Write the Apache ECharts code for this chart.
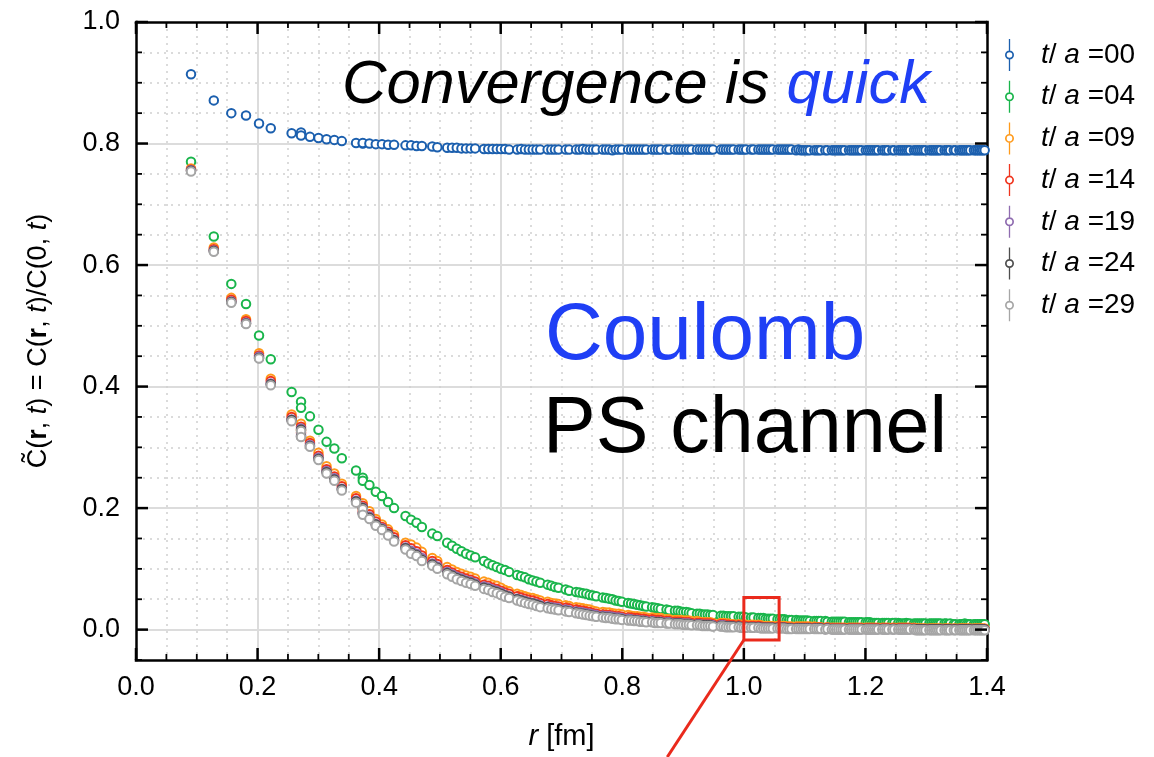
<!DOCTYPE html>
<html>
<head>
<meta charset="utf-8">
<script src="https://cdn.jsdelivr.net/npm/echarts@6/dist/echarts.min.js"></script>
<style>
  html, body { margin: 0; padding: 0; background: #ffffff; }
  #chart { width: 1154px; height: 757px; }
</style>
</head>
<body>
<div id="chart"></div>
<script>
// Lattice separations r [fm]
const radius = [
  0.0905, 0.1280, 0.1568, 0.1810, 0.2024, 0.2217, 0.2560, 0.2715, 0.2715, 0.2862,
  0.3002, 0.3135, 0.3263, 0.3386, 0.3620, 0.3731, 0.3731, 0.3840, 0.3945, 0.4047,
  0.4147, 0.4245, 0.4434, 0.4525, 0.4615, 0.4703, 0.4874, 0.4957, 0.5119, 0.5199,
  0.5277, 0.5354, 0.5430, 0.5505, 0.5579, 0.5724, 0.5795, 0.5865, 0.5935, 0.6003,
  0.6071, 0.6138, 0.6270, 0.6335, 0.6399, 0.6463, 0.6526, 0.6588, 0.6650, 0.6772,
  0.6833, 0.6892, 0.6951, 0.7068, 0.7126, 0.7240, 0.7296, 0.7352, 0.7408, 0.7463,
  0.7517, 0.7572, 0.7679, 0.7732, 0.7785, 0.7838, 0.7890, 0.7941, 0.7993, 0.8095,
  0.8145, 0.8195, 0.8245, 0.8294, 0.8344, 0.8393, 0.8490, 0.8538, 0.8586, 0.8633,
  0.8728, 0.8774, 0.8867, 0.8913, 0.8959, 0.9005, 0.9050, 0.9095, 0.9140, 0.9229,
  0.9274, 0.9318, 0.9361, 0.9405, 0.9448, 0.9492, 0.9620, 0.9663, 0.9705, 0.9747,
  0.9789, 0.9831, 0.9914, 0.9955, 0.9996, 1.0037, 1.0118, 1.0159, 1.0239, 1.0279,
  1.0319, 1.0358, 1.0398, 1.0437, 1.0476, 1.0554, 1.0593, 1.0631, 1.0670, 1.0708,
  1.0746, 1.0784, 1.0860, 1.0898, 1.0935, 1.0973, 1.1010, 1.1047, 1.1084, 1.1158,
  1.1194, 1.1231, 1.1267, 1.1340, 1.1376, 1.1447, 1.1483, 1.1519, 1.1554, 1.1590,
  1.1625, 1.1660, 1.1730, 1.1765, 1.1800, 1.1834, 1.1869, 1.1903, 1.1938, 1.2006,
  1.2040, 1.2074, 1.2108, 1.2142, 1.2176, 1.2209, 1.2276, 1.2309, 1.2343, 1.2376,
  1.2442, 1.2475, 1.2540, 1.2573, 1.2605, 1.2638, 1.2670, 1.2702, 1.2734, 1.2799,
  1.2831, 1.2862, 1.2894, 1.2926, 1.2958, 1.2989, 1.3052, 1.3083, 1.3115, 1.3146,
  1.3177, 1.3208, 1.3239, 1.3301, 1.3331, 1.3362, 1.3393, 1.3454, 1.3484, 1.3545,
  1.3575, 1.3605, 1.3635, 1.3665, 1.3695, 1.3725, 1.3785, 1.3814, 1.3844, 1.3873,
  1.3903, 1.3932, 1.3962
];

// Normalised correlator C(r,t)/C(0,t) for each t/a
const ta00 = [
  0.914, 0.871, 0.850, 0.846, 0.833, 0.825, 0.817, 0.818, 0.813, 0.811,
  0.809, 0.807, 0.806, 0.804, 0.801, 0.800, 0.801, 0.800, 0.799, 0.799,
  0.798, 0.798, 0.797, 0.797, 0.796, 0.796, 0.795, 0.794, 0.793, 0.793,
  0.793, 0.792, 0.792, 0.792, 0.792, 0.791, 0.791, 0.791, 0.791, 0.791,
  0.791, 0.790, 0.790, 0.791, 0.790, 0.790, 0.790, 0.790, 0.790, 0.790,
  0.790, 0.790, 0.790, 0.790, 0.790, 0.790, 0.790, 0.791, 0.790, 0.790,
  0.790, 0.790, 0.790, 0.790, 0.790, 0.789, 0.790, 0.790, 0.790, 0.790,
  0.790, 0.790, 0.790, 0.790, 0.790, 0.790, 0.790, 0.790, 0.790, 0.790,
  0.790, 0.790, 0.790, 0.790, 0.790, 0.790, 0.790, 0.790, 0.790, 0.790,
  0.790, 0.790, 0.790, 0.790, 0.790, 0.790, 0.790, 0.790, 0.790, 0.790,
  0.790, 0.790, 0.790, 0.790, 0.790, 0.790, 0.790, 0.790, 0.790, 0.790,
  0.790, 0.790, 0.790, 0.790, 0.790, 0.790, 0.790, 0.790, 0.790, 0.790,
  0.790, 0.790, 0.789, 0.790, 0.789, 0.789, 0.789, 0.789, 0.789, 0.789,
  0.789, 0.789, 0.789, 0.789, 0.789, 0.789, 0.789, 0.789, 0.789, 0.789,
  0.789, 0.789, 0.789, 0.789, 0.789, 0.789, 0.789, 0.789, 0.789, 0.789,
  0.789, 0.789, 0.789, 0.789, 0.789, 0.789, 0.789, 0.789, 0.789, 0.789,
  0.789, 0.789, 0.789, 0.789, 0.789, 0.789, 0.789, 0.789, 0.789, 0.789,
  0.789, 0.789, 0.789, 0.789, 0.789, 0.789, 0.789, 0.789, 0.789, 0.789,
  0.789, 0.789, 0.789, 0.789, 0.789, 0.789, 0.789, 0.789, 0.789, 0.789,
  0.789, 0.789, 0.789, 0.789, 0.789, 0.789, 0.789, 0.789, 0.789, 0.789,
  0.789, 0.789, 0.789
];
const ta04 = [
  0.770, 0.647, 0.569, 0.536, 0.484, 0.445, 0.391, 0.375, 0.365, 0.351,
  0.329, 0.309, 0.298, 0.282, 0.262, 0.250, 0.245, 0.238, 0.227, 0.220,
  0.210, 0.200, 0.187, 0.181, 0.176, 0.169, 0.158, 0.154, 0.143, 0.138,
  0.133, 0.129, 0.125, 0.122, 0.119, 0.113, 0.109, 0.106, 0.103, 0.100,
  0.098, 0.095, 0.090, 0.088, 0.086, 0.083, 0.081, 0.079, 0.077, 0.074,
  0.072, 0.070, 0.069, 0.066, 0.064, 0.062, 0.061, 0.060, 0.059, 0.057,
  0.056, 0.055, 0.053, 0.052, 0.051, 0.050, 0.048, 0.047, 0.046, 0.044,
  0.043, 0.042, 0.041, 0.040, 0.039, 0.038, 0.037, 0.036, 0.035, 0.034,
  0.033, 0.032, 0.031, 0.031, 0.030, 0.029, 0.029, 0.028, 0.027, 0.026,
  0.026, 0.025, 0.025, 0.025, 0.024, 0.024, 0.023, 0.023, 0.022, 0.022,
  0.022, 0.022, 0.021, 0.021, 0.021, 0.020, 0.020, 0.020, 0.019, 0.019,
  0.019, 0.018, 0.018, 0.018, 0.018, 0.017, 0.017, 0.017, 0.017, 0.016,
  0.016, 0.016, 0.016, 0.015, 0.015, 0.015, 0.015, 0.015, 0.014, 0.014,
  0.014, 0.014, 0.014, 0.014, 0.013, 0.013, 0.013, 0.013, 0.013, 0.013,
  0.013, 0.013, 0.012, 0.012, 0.012, 0.012, 0.012, 0.012, 0.012, 0.012,
  0.012, 0.012, 0.011, 0.011, 0.011, 0.011, 0.011, 0.011, 0.011, 0.011,
  0.011, 0.011, 0.011, 0.010, 0.010, 0.010, 0.011, 0.010, 0.010, 0.010,
  0.010, 0.010, 0.010, 0.010, 0.010, 0.010, 0.010, 0.010, 0.010, 0.010,
  0.010, 0.010, 0.010, 0.010, 0.010, 0.009, 0.010, 0.009, 0.009, 0.009,
  0.009, 0.009, 0.010, 0.009, 0.009, 0.009, 0.009, 0.009, 0.009, 0.009,
  0.009, 0.009, 0.009
];
const ta09 = [
  0.759, 0.629, 0.546, 0.511, 0.455, 0.413, 0.354, 0.339, 0.328, 0.311,
  0.291, 0.269, 0.257, 0.240, 0.220, 0.208, 0.199, 0.195, 0.182, 0.173,
  0.165, 0.156, 0.143, 0.140, 0.135, 0.128, 0.118, 0.113, 0.103, 0.099,
  0.095, 0.092, 0.089, 0.087, 0.084, 0.079, 0.077, 0.074, 0.072, 0.069,
  0.065, 0.063, 0.059, 0.057, 0.055, 0.053, 0.052, 0.050, 0.048, 0.046,
  0.044, 0.043, 0.042, 0.040, 0.039, 0.037, 0.036, 0.035, 0.034, 0.033,
  0.031, 0.030, 0.029, 0.028, 0.028, 0.027, 0.026, 0.026, 0.025, 0.024,
  0.023, 0.022, 0.022, 0.021, 0.021, 0.020, 0.020, 0.019, 0.019, 0.019,
  0.017, 0.017, 0.016, 0.016, 0.016, 0.015, 0.015, 0.015, 0.014, 0.014,
  0.013, 0.012, 0.012, 0.012, 0.012, 0.011, 0.011, 0.011, 0.010, 0.010,
  0.009, 0.009, 0.009, 0.008, 0.008, 0.008, 0.008, 0.008, 0.008, 0.007,
  0.006, 0.006, 0.006, 0.006, 0.006, 0.006, 0.006, 0.006, 0.006, 0.005,
  0.005, 0.005, 0.005, 0.005, 0.005, 0.005, 0.005, 0.005, 0.005, 0.005,
  0.004, 0.004, 0.004, 0.003, 0.004, 0.003, 0.003, 0.003, 0.003, 0.003,
  0.003, 0.003, 0.003, 0.003, 0.003, 0.003, 0.003, 0.003, 0.003, 0.003,
  0.003, 0.003, 0.003, 0.003, 0.003, 0.003, 0.003, 0.003, 0.003, 0.003,
  0.003, 0.003, 0.003, 0.003, 0.003, 0.003, 0.003, 0.003, 0.003, 0.003,
  0.002, 0.002, 0.002, 0.002, 0.002, 0.002, 0.002, 0.002, 0.002, 0.002,
  0.002, 0.002, 0.002, 0.002, 0.002, 0.002, 0.002, 0.002, 0.002, 0.002,
  0.002, 0.002, 0.002, 0.002, 0.002, 0.002, 0.002, 0.002, 0.002, 0.002,
  0.002, 0.002, 0.002
];
const ta14 = [
  0.757, 0.626, 0.543, 0.508, 0.451, 0.409, 0.350, 0.334, 0.324, 0.307,
  0.286, 0.264, 0.252, 0.236, 0.216, 0.204, 0.195, 0.190, 0.178, 0.169,
  0.161, 0.152, 0.139, 0.134, 0.129, 0.122, 0.113, 0.108, 0.098, 0.094,
  0.090, 0.087, 0.084, 0.082, 0.079, 0.074, 0.072, 0.069, 0.067, 0.064,
  0.061, 0.059, 0.055, 0.053, 0.051, 0.049, 0.048, 0.046, 0.044, 0.042,
  0.040, 0.039, 0.038, 0.036, 0.035, 0.033, 0.032, 0.031, 0.030, 0.029,
  0.027, 0.026, 0.025, 0.024, 0.024, 0.023, 0.022, 0.022, 0.021, 0.020,
  0.020, 0.019, 0.019, 0.018, 0.018, 0.017, 0.017, 0.016, 0.016, 0.016,
  0.014, 0.014, 0.013, 0.013, 0.013, 0.012, 0.012, 0.012, 0.011, 0.011,
  0.011, 0.010, 0.010, 0.010, 0.010, 0.009, 0.009, 0.009, 0.008, 0.008,
  0.007, 0.007, 0.007, 0.006, 0.006, 0.006, 0.006, 0.006, 0.006, 0.005,
  0.004, 0.004, 0.004, 0.004, 0.004, 0.004, 0.004, 0.004, 0.004, 0.003,
  0.003, 0.003, 0.003, 0.003, 0.003, 0.003, 0.003, 0.003, 0.003, 0.003,
  0.003, 0.003, 0.003, 0.002, 0.003, 0.002, 0.002, 0.002, 0.002, 0.002,
  0.002, 0.002, 0.002, 0.002, 0.002, 0.002, 0.002, 0.002, 0.002, 0.002,
  0.002, 0.002, 0.002, 0.002, 0.002, 0.002, 0.002, 0.002, 0.002, 0.002,
  0.002, 0.002, 0.002, 0.002, 0.002, 0.002, 0.002, 0.002, 0.002, 0.002,
  0.001, 0.001, 0.001, 0.001, 0.001, 0.001, 0.001, 0.001, 0.001, 0.001,
  0.001, 0.001, 0.001, 0.001, 0.001, 0.001, 0.001, 0.001, 0.001, 0.001,
  0.001, 0.001, 0.001, 0.001, 0.001, 0.001, 0.001, 0.001, 0.001, 0.001,
  0.001, 0.001, 0.001
];
const ta19 = [
  0.756, 0.624, 0.540, 0.505, 0.449, 0.405, 0.346, 0.331, 0.320, 0.304,
  0.283, 0.261, 0.249, 0.232, 0.212, 0.201, 0.192, 0.186, 0.174, 0.167,
  0.158, 0.148, 0.135, 0.130, 0.125, 0.118, 0.109, 0.104, 0.095, 0.091,
  0.087, 0.084, 0.081, 0.079, 0.076, 0.071, 0.069, 0.066, 0.064, 0.061,
  0.057, 0.055, 0.051, 0.049, 0.047, 0.045, 0.044, 0.042, 0.040, 0.038,
  0.037, 0.036, 0.035, 0.033, 0.032, 0.030, 0.029, 0.028, 0.027, 0.026,
  0.025, 0.024, 0.023, 0.022, 0.022, 0.021, 0.020, 0.020, 0.019, 0.018,
  0.017, 0.016, 0.016, 0.015, 0.015, 0.014, 0.014, 0.013, 0.013, 0.013,
  0.012, 0.012, 0.011, 0.011, 0.011, 0.010, 0.010, 0.010, 0.009, 0.009,
  0.009, 0.008, 0.008, 0.008, 0.008, 0.007, 0.007, 0.007, 0.006, 0.006,
  0.005, 0.005, 0.005, 0.004, 0.004, 0.004, 0.004, 0.004, 0.004, 0.003,
  0.003, 0.003, 0.003, 0.003, 0.003, 0.003, 0.003, 0.003, 0.003, 0.002,
  0.002, 0.002, 0.002, 0.002, 0.002, 0.002, 0.002, 0.002, 0.002, 0.002,
  0.002, 0.002, 0.002, 0.001, 0.002, 0.001, 0.001, 0.001, 0.001, 0.001,
  0.001, 0.001, 0.001, 0.001, 0.001, 0.001, 0.001, 0.001, 0.001, 0.001,
  0.001, 0.001, 0.001, 0.001, 0.001, 0.001, 0.001, 0.001, 0.001, 0.001,
  0.001, 0.001, 0.001, 0.001, 0.001, 0.001, 0.001, 0.001, 0.001, 0.001,
  0.000, 0.000, 0.000, 0.000, 0.000, 0.000, 0.000, 0.000, 0.000, 0.000,
  0.000, 0.000, 0.000, 0.000, 0.000, 0.000, 0.000, 0.000, 0.000, 0.000,
  0.000, 0.000, 0.000, 0.000, 0.000, 0.000, 0.000, 0.000, 0.000, 0.000,
  0.000, 0.000, 0.000
];
const ta24 = [
  0.755, 0.623, 0.539, 0.504, 0.447, 0.404, 0.345, 0.329, 0.318, 0.302,
  0.281, 0.259, 0.247, 0.231, 0.211, 0.200, 0.191, 0.184, 0.173, 0.165,
  0.157, 0.147, 0.134, 0.127, 0.123, 0.115, 0.107, 0.102, 0.093, 0.089,
  0.085, 0.082, 0.079, 0.077, 0.074, 0.069, 0.067, 0.064, 0.062, 0.059,
  0.056, 0.054, 0.050, 0.048, 0.046, 0.044, 0.043, 0.041, 0.039, 0.037,
  0.035, 0.034, 0.033, 0.031, 0.030, 0.028, 0.027, 0.026, 0.025, 0.024,
  0.023, 0.022, 0.021, 0.020, 0.020, 0.019, 0.018, 0.018, 0.017, 0.016,
  0.016, 0.015, 0.015, 0.014, 0.014, 0.013, 0.013, 0.012, 0.012, 0.012,
  0.011, 0.011, 0.010, 0.010, 0.010, 0.009, 0.009, 0.009, 0.008, 0.008,
  0.008, 0.007, 0.007, 0.007, 0.007, 0.006, 0.006, 0.006, 0.005, 0.005,
  0.005, 0.005, 0.005, 0.004, 0.004, 0.004, 0.004, 0.004, 0.004, 0.003,
  0.003, 0.003, 0.003, 0.003, 0.003, 0.003, 0.003, 0.003, 0.003, 0.002,
  0.002, 0.002, 0.002, 0.002, 0.002, 0.002, 0.002, 0.002, 0.002, 0.002,
  0.002, 0.002, 0.002, 0.001, 0.002, 0.001, 0.001, 0.001, 0.001, 0.001,
  0.001, 0.001, 0.001, 0.001, 0.001, 0.001, 0.001, 0.001, 0.001, 0.001,
  0.001, 0.001, 0.001, 0.001, 0.001, 0.001, 0.001, 0.001, 0.001, 0.001,
  0.001, 0.001, 0.001, 0.001, 0.001, 0.001, 0.001, 0.001, 0.001, 0.001,
  0.000, 0.000, 0.000, 0.000, 0.000, 0.000, 0.000, 0.000, 0.000, 0.000,
  0.000, 0.000, 0.000, 0.000, 0.000, 0.000, 0.000, 0.000, 0.000, 0.000,
  0.000, 0.000, 0.000, 0.000, 0.000, 0.000, 0.000, 0.000, 0.000, 0.000,
  0.000, 0.000, 0.000
];
const ta29 = [
  0.754, 0.622, 0.538, 0.503, 0.446, 0.402, 0.343, 0.327, 0.317, 0.301,
  0.279, 0.257, 0.245, 0.229, 0.209, 0.198, 0.189, 0.182, 0.171, 0.164,
  0.155, 0.145, 0.132, 0.125, 0.121, 0.113, 0.105, 0.100, 0.091, 0.087,
  0.083, 0.080, 0.077, 0.075, 0.072, 0.067, 0.065, 0.062, 0.060, 0.057,
  0.054, 0.052, 0.048, 0.046, 0.044, 0.042, 0.041, 0.039, 0.037, 0.035,
  0.034, 0.033, 0.032, 0.030, 0.029, 0.027, 0.026, 0.025, 0.024, 0.023,
  0.022, 0.021, 0.020, 0.019, 0.019, 0.018, 0.017, 0.017, 0.016, 0.015,
  0.015, 0.014, 0.014, 0.013, 0.013, 0.012, 0.012, 0.011, 0.011, 0.011,
  0.010, 0.010, 0.009, 0.009, 0.009, 0.008, 0.008, 0.008, 0.007, 0.007,
  0.007, 0.006, 0.006, 0.006, 0.006, 0.005, 0.005, 0.005, 0.004, 0.004,
  0.004, 0.004, 0.004, 0.003, 0.003, 0.003, 0.003, 0.003, 0.003, 0.002,
  0.002, 0.002, 0.002, 0.002, 0.002, 0.002, 0.002, 0.002, 0.002, 0.001,
  0.001, 0.001, 0.001, 0.001, 0.001, 0.001, 0.001, 0.001, 0.001, 0.001,
  0.001, 0.001, 0.001, 0.000, 0.001, 0.000, 0.000, 0.000, 0.000, 0.000,
  0.000, 0.000, 0.000, 0.000, 0.000, 0.000, 0.000, 0.000, 0.000, 0.000,
  0.000, 0.000, 0.000, 0.000, 0.000, 0.000, 0.000, 0.000, 0.000, 0.000,
  0.000, 0.000, 0.000, 0.000, 0.000, 0.000, 0.000, 0.000, 0.000, 0.000,
  -0.001, -0.001, -0.001, -0.001, -0.001, -0.001, -0.001, -0.001, -0.001, -0.001,
  -0.001, -0.001, -0.001, -0.001, -0.001, -0.001, -0.001, -0.001, -0.001, -0.001,
  -0.001, -0.001, -0.001, -0.001, -0.001, -0.001, -0.001, -0.001, -0.001, -0.001,
  -0.001, -0.001, -0.001
];

const seriesNames = ['t/a =00', 't/a =04', 't/a =09', 't/a =14', 't/a =19', 't/a =24', 't/a =29'];
const seriesValues = [ta00, ta04, ta09, ta14, ta19, ta24, ta29];
const seriesColors = ['#1b5fae', '#19b54b', '#ff9a1a', '#f0351e', '#8f6cb0', '#4d4d4d', '#a6a6a6'];

// Axis ranges, grid spacing and the tick marks drawn on the frame
const rRange = [0, 1.4];
const rStep = 0.2;
const cRange = [-0.05, 1.0];
const cStep = 0.2;
const cMinorStep = 0.05;
const rTickValues = [
  0.00, 0.05, 0.10, 0.15, 0.20, 0.25, 0.30, 0.35, 0.40, 0.45, 0.50, 0.55, 0.60, 0.65, 0.70,
  0.75, 0.80, 0.85, 0.90, 0.95, 1.00, 1.05, 1.10, 1.15, 1.20, 1.25, 1.30, 1.35, 1.40
];
const cTickValues = [
  -0.05, 0.00, 0.05, 0.10, 0.15, 0.20, 0.25, 0.30, 0.35, 0.40, 0.45,
  0.50, 0.55, 0.60, 0.65, 0.70, 0.75, 0.80, 0.85, 0.90, 0.95, 1.00
];

// Zoomed-in window highlighted on the plot
const zoomWindow = { r: [1.0, 1.058], c: [-0.017, 0.053] };
const pointerEndR = 0.874;

const FONT = '"Liberation Sans", Arial, Helvetica, sans-serif';
const INK = '#000000';
const GRID_MAJOR = '#dcdcdc';
const GRID_MINOR = '#cfcfcf';

// Legend marker: small ring with a vertical error bar through it
const legendIcon = 'path://M4.5,11.5 A4.5,4.5 0 1,1 4.5,20.5 A4.5,4.5 0 1,1 4.5,11.5 Z ' +
  'M4.5,13.2 A2.8,2.8 0 1,0 4.5,18.8 A2.8,2.8 0 1,0 4.5,13.2 Z ' +
  'M3.85,0 L5.15,0 L5.15,11.7 L3.85,11.7 Z M3.85,20.3 L5.15,20.3 L5.15,32 L3.85,32 Z';

const isMultiple = (v, step) => Math.abs(v / step - Math.round(v / step)) < 1e-6;

const chart = echarts.init(document.getElementById('chart'), null, { renderer: 'canvas' });

const richText = size => ({
  n: { fontFamily: FONT, fontSize: size, color: INK },
  i: { fontFamily: FONT, fontSize: size, color: INK, fontStyle: 'italic' },
  b: { fontFamily: FONT, fontSize: size, color: INK, fontWeight: 'bold' }
});

const frameLine = () => ({ show: true, onZero: false, lineStyle: { color: INK, width: 2.5, cap: 'square' } });
const noLine = () => ({ show: false, onZero: false });
const dotted = () => ({ color: GRID_MINOR, width: 1.5, type: [2, 5] });
const solid = () => ({ color: GRID_MAJOR, width: 2 });

const option = {
  animation: false,
  backgroundColor: '#ffffff',
  grid: { left: 136, right: 167, top: 22, bottom: 97, show: false },
  legend: {
    orient: 'vertical',
    left: 1000, top: 34,
    itemWidth: 9, itemHeight: 32, itemGap: 9.7,
    icon: legendIcon,
    selectedMode: false,
    data: seriesNames.map((name, i) => ({
      name: name,
      itemStyle: { color: seriesColors[i], borderWidth: 0 }
    })),
    formatter: name => '{i|t}{n|/ }{i|a}{n| =' + name.split('=')[1] + '}',
    textStyle: {
      fontFamily: FONT, fontSize: 28, color: INK,
      padding: [0, 0, 0, 22],
      rich: richText(28)
    }
  },
  xAxis: [
    {
      type: 'value', position: 'bottom', z: 1,
      min: rRange[0], max: rRange[1], interval: rStep,
      axisLine: frameLine(),
      axisTick: { show: false },
      minorTick: { show: false, splitNumber: 4 },
      splitLine: { show: true, showMinLine: false, showMaxLine: false, lineStyle: solid() },
      minorSplitLine: { show: true, lineStyle: dotted() },
      axisLabel: { show: true, margin: 14, fontFamily: FONT, fontSize: 27, color: INK,
                   formatter: v => v.toFixed(1) },
      name: '{i|r} [fm]',
      nameLocation: 'middle', nameGap: 62,
      nameTextStyle: { fontFamily: FONT, fontSize: 29, color: INK, rich: richText(29) }
    },
    {
      type: 'value', position: 'top', z: 1,
      min: rRange[0], max: rRange[1], interval: rStep,
      axisLine: frameLine(),
      axisTick: { show: false },
      splitLine: { show: false },
      axisLabel: { show: false }
    }
  ],
  yAxis: [
    {
      // dotted grid every 0.05
      type: 'value', position: 'left', z: 0,
      min: cRange[0], max: cRange[1], interval: cMinorStep,
      axisLine: noLine(), axisTick: { show: false }, axisLabel: { show: false },
      splitLine: { show: true, showMinLine: false, showMaxLine: false, lineStyle: dotted() }
    },
    {
      // solid grid, labels and title every 0.2
      type: 'value', position: 'left', z: 1,
      min: cRange[0], max: cRange[1], splitNumber: 5,
      axisLine: frameLine(), axisTick: { show: false },
      splitLine: { show: true, showMinLine: false, showMaxLine: false, lineStyle: solid() },
      axisLabel: { show: true, margin: 16, fontFamily: FONT, fontSize: 27, color: INK,
                   formatter: v => (isMultiple(v, cStep) ? v.toFixed(1) : '') },
      name: '{n|C\u0303(}{b|r}{n|, }{i|t}{n|) = C(}{b|r}{n|, }{i|t}{n|)/C(0, }{i|t}{n|)}',
      nameLocation: 'middle', nameGap: 84, nameRotate: 90,
      nameTextStyle: { fontFamily: FONT, fontSize: 27, color: INK, rich: richText(27) }
    },
    {
      type: 'value', position: 'right', z: 1,
      min: cRange[0], max: cRange[1], interval: cMinorStep,
      axisLine: frameLine(), axisTick: { show: false },
      splitLine: { show: false }, axisLabel: { show: false }
    }
  ],
  series: seriesNames.map((name, i) => ({
    type: 'scatter',
    name: name,
    xAxisIndex: 0,
    yAxisIndex: 1,
    data: radius.map((r, j) => [r, seriesValues[i][j]]),
    symbol: 'circle',
    symbolSize: 8.5,
    itemStyle: { color: '#ffffff', borderColor: seriesColors[i], borderWidth: 2, opacity: 1 },
    emphasis: { disabled: true },
    clip: true
  })),
  graphic: [
    {
      id: 'headline', type: 'text', left: 342, top: 55, z: 20,
      style: {
        text: '{k|Convergence is }{q|quick}',
        rich: {
          k: { fontFamily: FONT, fontSize: 61.5, fontStyle: 'italic', fill: '#000000' },
          q: { fontFamily: FONT, fontSize: 61.5, fontStyle: 'italic', fill: '#1f3ff5' }
        }
      }
    },
    {
      id: 'coulomb', type: 'text', left: 545, top: 297, z: 20,
      style: { text: 'Coulomb', fontFamily: FONT, fontSize: 80, fill: '#1f3ff5' }
    },
    {
      id: 'channel', type: 'text', left: 543, top: 391, z: 20,
      style: { text: 'PS channel', fontFamily: FONT, fontSize: 79, fill: '#000000' }
    }
  ]
};

chart.setOption(option);

// Inward tick marks on all four sides, positioned through the axes
const coordSys = { xAxisIndex: 0, yAxisIndex: 1 };
const toPx = (r, c) => chart.convertToPixel(coordSys, [r, c]);
const tickMarks = [];
const tickStyle = major => ({ stroke: INK, lineWidth: major ? 2.5 : 1.8 });
rTickValues.forEach((r, k) => {
  const major = isMultiple(r, rStep);
  const len = major ? 12 : 6;
  const low = toPx(r, cRange[0]);
  const high = toPx(r, cRange[1]);
  tickMarks.push({ id: 'rb' + k, type: 'line', z: 15, silent: true,
    shape: { x1: low[0], y1: low[1], x2: low[0], y2: low[1] - len }, style: tickStyle(major) });
  tickMarks.push({ id: 'rt' + k, type: 'line', z: 15, silent: true,
    shape: { x1: high[0], y1: high[1], x2: high[0], y2: high[1] + len }, style: tickStyle(major) });
});
cTickValues.forEach((c, k) => {
  const major = isMultiple(c, cStep);
  const len = major ? 12 : 6;
  const left = toPx(rRange[0], c);
  const right = toPx(rRange[1], c);
  tickMarks.push({ id: 'cl' + k, type: 'line', z: 15, silent: true,
    shape: { x1: left[0], y1: left[1], x2: left[0] + len, y2: left[1] }, style: tickStyle(major) });
  tickMarks.push({ id: 'cr' + k, type: 'line', z: 15, silent: true,
    shape: { x1: right[0], y1: right[1], x2: right[0] - len, y2: right[1] }, style: tickStyle(major) });
});

// Highlight window and its pointer
const cornerA = toPx(zoomWindow.r[0], zoomWindow.c[1]);
const cornerB = toPx(zoomWindow.r[1], zoomWindow.c[0]);
const pointerEnd = toPx(pointerEndR, 0);
chart.setOption({
  graphic: tickMarks.concat([
    {
      id: 'window', type: 'rect', z: 30,
      shape: { x: cornerA[0], y: cornerA[1], width: cornerB[0] - cornerA[0], height: cornerB[1] - cornerA[1] },
      style: { fill: 'none', stroke: '#ea2a1c', lineWidth: 3 }
    },
    {
      id: 'pointer', type: 'line', z: 30,
      shape: { x1: cornerA[0], y1: cornerB[1], x2: pointerEnd[0], y2: chart.getHeight() },
      style: { stroke: '#ea2a1c', lineWidth: 3 }
    }
  ])
});
</script>
</body>
</html>
